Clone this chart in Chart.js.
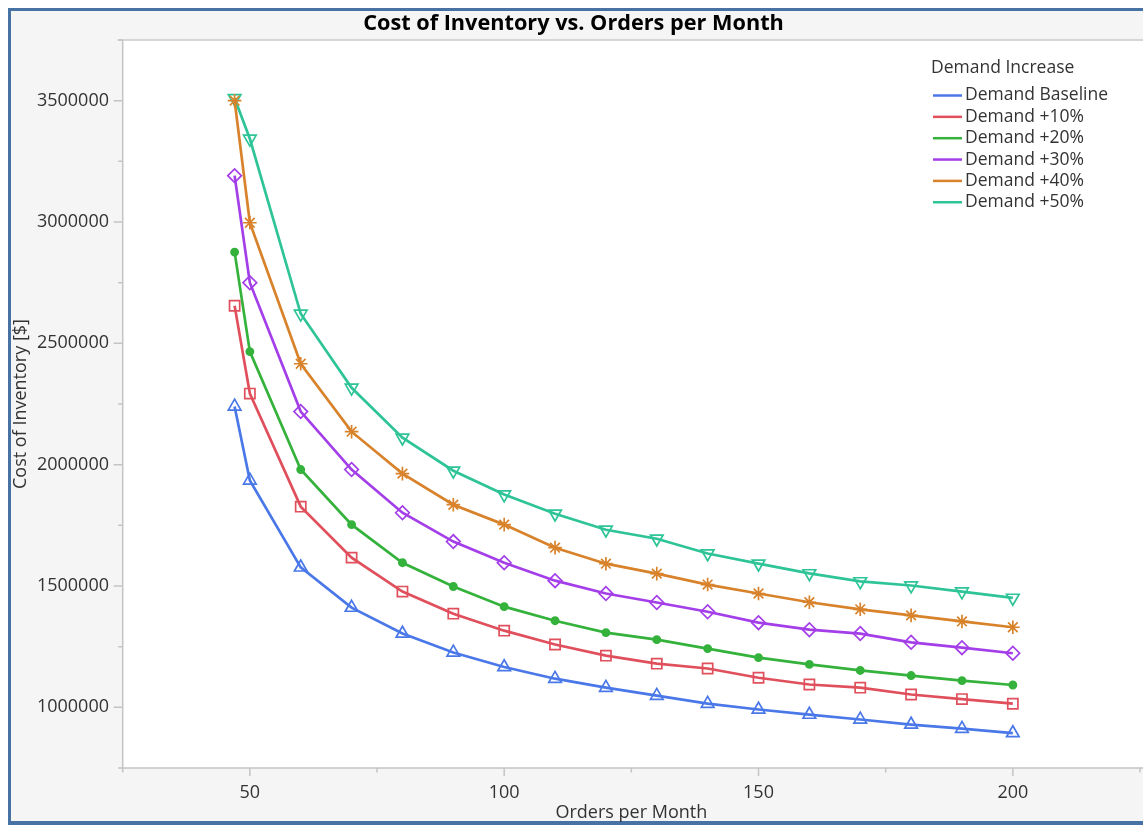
<!DOCTYPE html>
<html>
<head>
<meta charset="utf-8">
<script src="https://cdn.jsdelivr.net/npm/chart.js@4/dist/chart.umd.min.js"></script>
<style>
html,body{margin:0;padding:0;background:#fff;overflow:hidden;}
#wrap{position:relative;width:1143px;height:825px;overflow:hidden;}
canvas{display:block;}
</style>
</head>
<body>
<div id="wrap"><canvas id="c" width="1149" height="825"></canvas></div>
<script>
// ---- data ----
const chartTitle = 'Cost of Inventory vs. Orders per Month';
const xTitle = 'Orders per Month';
const yTitle = 'Cost of Inventory [$]';
const legendTitle = 'Demand Increase';
const orders = [47, 50, 60, 70, 80, 90, 100, 110, 120, 130, 140, 150, 160, 170, 180, 190, 200];
const seriesNames = ['Demand Baseline', 'Demand +10%', 'Demand +20%', 'Demand +30%', 'Demand +40%', 'Demand +50%'];
const baseline = [2240000, 1935000, 1577000, 1411000, 1304000, 1226000, 1166000, 1118000, 1081000, 1048000, 1015000, 991000, 970000, 950000, 929000, 912000, 894000];
const plus10 = [2655000, 2293000, 1827000, 1617000, 1477000, 1386000, 1316000, 1259000, 1213000, 1180000, 1160000, 1122000, 1094000, 1081000, 1053000, 1034000, 1015000];
const plus20 = [2876000, 2466000, 1980000, 1753000, 1596000, 1498000, 1415000, 1357000, 1308000, 1279000, 1242000, 1205000, 1177000, 1152000, 1131000, 1110000, 1092000];
const plus30 = [3191000, 2750000, 2219000, 1980000, 1802000, 1683000, 1596000, 1522000, 1469000, 1432000, 1394000, 1349000, 1320000, 1304000, 1268000, 1246000, 1223000];
const plus40 = [3500000, 2997000, 2416000, 2136000, 1963000, 1835000, 1753000, 1658000, 1592000, 1551000, 1506000, 1469000, 1433000, 1404000, 1379000, 1354000, 1330000];
const plus50 = [3510000, 3343000, 2622000, 2317000, 2111000, 1975000, 1877000, 1798000, 1732000, 1695000, 1634000, 1592000, 1552000, 1519000, 1502000, 1477000, 1451000];
const xMin = 25, xMax = 225, xStep = 25, xLabelStep = 50;
const yMin = 750000, yMax = 3750000, yStep = 250000, yLabelStep = 500000;

// ---- styles ----
const colors = ['#4a78e8', '#e0505c', '#34b23c', '#a33ee8', '#d8832b', '#2ec497'];
const markers = [
  {pointStyle: 'triangle', r: 7.3, rot: 0, fill: false},
  {pointStyle: 'rect', r: 7.2, rot: 0, fill: false},
  {pointStyle: 'circle', r: 3.6, rot: 0, fill: true},
  {pointStyle: 'rectRot', r: 6.8, rot: 0, fill: false},
  {pointStyle: 'star', r: 6.8, rot: 0, fill: false},
  {pointStyle: 'triangle', r: 7.3, rot: 180, fill: false}
];
const allSeries = [baseline, plus10, plus20, plus30, plus40, plus50];
const FONT = "'Open Sans', 'Noto Sans', sans-serif";
const TXT = '#333333';

const datasets = allSeries.map((vals, i) => ({
  label: seriesNames[i],
  data: orders.map((x, j) => ({x: x, y: vals[j]})),
  borderColor: colors[i],
  backgroundColor: colors[i],
  borderWidth: 2.7,
  pointStyle: markers[i].pointStyle,
  pointRadius: markers[i].r,
  pointRotation: markers[i].rot,
  pointBorderWidth: 1.7,
  pointBorderColor: colors[i],
  pointBackgroundColor: markers[i].fill ? colors[i] : 'rgba(0,0,0,0)',
  tension: 0
}));

const framePlugin = {
  id: 'frame',
  beforeDraw(chart) {
    const ctx = chart.ctx, a = chart.chartArea, W = chart.width, H = chart.height;
    ctx.save();
    ctx.fillStyle = '#ffffff'; ctx.fillRect(0, 0, W, H);
    ctx.fillStyle = '#4672a4'; ctx.fillRect(8, 8, W, 817);
    ctx.fillStyle = '#f5f5f5'; ctx.fillRect(11, 11, W, 810);
    ctx.fillStyle = '#ffffff'; ctx.fillRect(a.left, a.top, W - a.left, a.bottom - a.top);
    ctx.restore();
  },
  beforeDatasetsDraw(chart) {
    const ctx = chart.ctx, a = chart.chartArea, W = chart.width;
    const xs = chart.scales.x, ys = chart.scales.y;
    ctx.save();
    ctx.strokeStyle = '#d6d6d6'; ctx.lineWidth = 2;
    ctx.beginPath(); ctx.moveTo(a.left - 5, a.top); ctx.lineTo(W, a.top); ctx.stroke();
    ctx.strokeStyle = '#c4c4c4'; ctx.lineWidth = 1.5;
    ctx.beginPath();
    ctx.moveTo(a.left, a.top); ctx.lineTo(a.left, a.bottom);
    ctx.moveTo(a.left, a.bottom); ctx.lineTo(W, a.bottom);
    for (let v = yMin; v <= yMax; v += yStep) {
      const py = ys.getPixelForValue(v);
      const len = (v % yLabelStep === 0) ? 9 : 4.5;
      ctx.moveTo(a.left - len, py); ctx.lineTo(a.left, py);
    }
    for (let v = xMin; v <= xMax; v += xStep) {
      const px = xs.getPixelForValue(v);
      const len = (v % xLabelStep === 0) ? 8 : 4.5;
      ctx.moveTo(px, a.bottom); ctx.lineTo(px, a.bottom + len);
    }
    ctx.stroke();
    ctx.restore();
  },
  afterDraw(chart) {
    const ctx = chart.ctx;
    ctx.save();
    ctx.font = '17.5px ' + FONT;
    ctx.fillStyle = TXT;
    ctx.textBaseline = 'middle';
    ctx.textAlign = 'left';
    ctx.fillText(legendTitle, 931, 68);
    chart.data.datasets.forEach((ds, i) => {
      const y = 95.5 + i * 21.35;
      ctx.strokeStyle = ds.borderColor; ctx.lineWidth = 2.5;
      ctx.beginPath(); ctx.moveTo(933, y); ctx.lineTo(962, y); ctx.stroke();
      ctx.fillStyle = TXT;
      ctx.fillText(ds.label, 965, y);
    });
    ctx.restore();
  }
};

new Chart(document.getElementById('c'), {
  type: 'line',
  data: {datasets: datasets},
  options: {
    responsive: false,
    devicePixelRatio: 1,
    animation: false,
    layout: {padding: {top: 0, left: 0, right: 2, bottom: 0}},
    plugins: {
      legend: {display: false},
      tooltip: {enabled: false},
      title: {
        display: true, text: chartTitle, color: '#000000',
        font: {family: FONT, size: 21.7, weight: 'bold'},
        padding: {top: 11, bottom: 3}
      }
    },
    scales: {
      x: {
        type: 'linear', min: xMin, max: xMax,
        grid: {display: false, drawTicks: false}, border: {display: false},
        ticks: {
          stepSize: xStep, autoSkip: false, maxRotation: 0, padding: 14.5,
          color: TXT, font: {family: FONT, size: 18},
          callback: (v) => (v % xLabelStep === 0 && v >= 50 && v <= 200) ? String(v) : ''
        },
        title: {display: true, text: xTitle, color: TXT, font: {family: FONT, size: 18}, padding: {top: 0, bottom: 1.5}},
        afterFit: (s) => { s.height = 57; s.paddingLeft = 0; s.paddingRight = 0; }
      },
      y: {
        type: 'linear', min: yMin, max: yMax,
        grid: {display: false, drawTicks: false}, border: {display: false},
        ticks: {
          stepSize: yStep, autoSkip: false, padding: 13.7,
          color: TXT, font: {family: FONT, size: 18},
          callback: (v) => (v % yLabelStep === 0) ? String(v) : ''
        },
        title: {display: true, text: yTitle, color: TXT, font: {family: FONT, size: 18}, padding: {top: 9.6, bottom: 0}},
        afterFit: (s) => { s.width = 122.7; s.paddingTop = 0; s.paddingBottom = 0; }
      }
    }
  },
  plugins: [framePlugin]
});
</script>
</body>
</html>
